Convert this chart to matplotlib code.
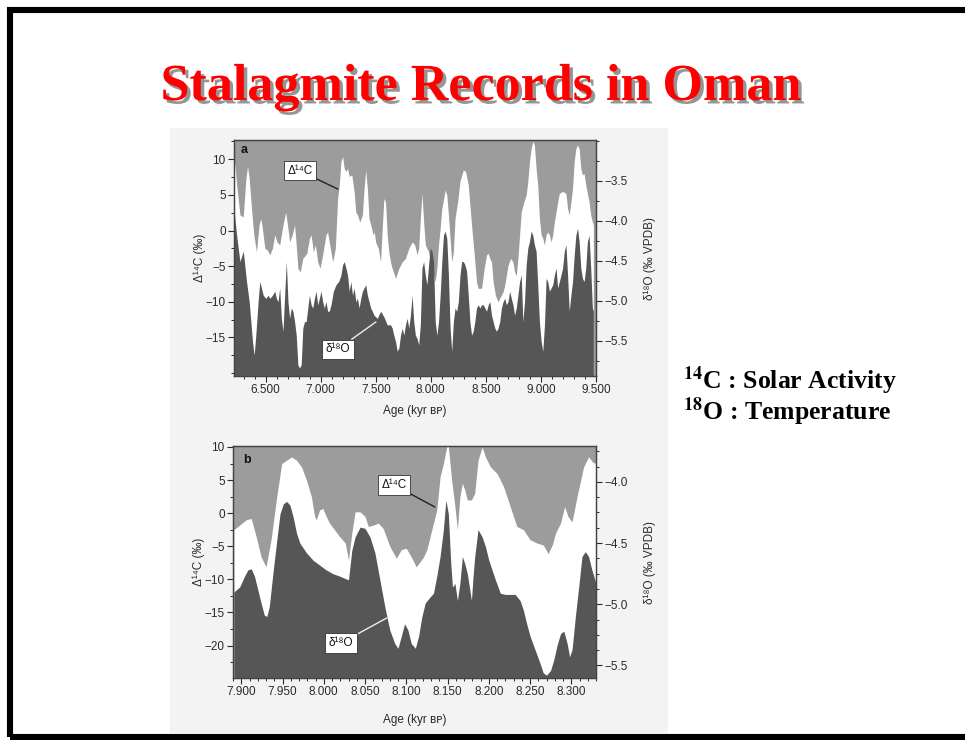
import matplotlib
matplotlib.use("Agg")
import matplotlib.pyplot as plt
import matplotlib.patheffects as pe
from matplotlib.patches import Rectangle
from matplotlib.ticker import FuncFormatter, MultipleLocator

plt.rcParams['font.family'] = ['Liberation Sans', 'DejaVu Sans']
plt.rcParams['mathtext.fontset'] = 'stix'

# ---------------- data: panel a ----------------
A_C14_AGE = [6213, 6222, 6237, 6267, 6297, 6321, 6336, 6351, 6372, 6393, 6417, 6441, 6456, 6471, 6493,
             6514, 6538, 6562, 6583, 6604, 6628, 6658, 6682, 6703, 6718, 6742, 6763, 6778, 6793, 6814,
             6838, 6874, 6898, 6913, 6934, 6952, 6973, 6994, 7018, 7048, 7063, 7078, 7109, 7133, 7154,
             7169, 7184, 7199, 7214, 7229, 7244, 7259, 7283, 7304, 7319, 7334, 7355, 7379, 7394, 7409,
             7424, 7439, 7463, 7475, 7487, 7499, 7523, 7544, 7559, 7574, 7589, 7604, 7619, 7634, 7649,
             7680, 7710, 7740, 7770, 7800, 7830, 7854, 7875, 7890, 7905, 7920, 7935, 7950, 7965, 7980,
             7995, 8010, 8025, 8040, 8055, 8070, 8085, 8100, 8115, 8130, 8145, 8160, 8175, 8190, 8205,
             8220, 8244, 8265, 8295, 8316, 8340, 8370, 8400, 8415, 8430, 8461, 8485, 8506, 8521, 8536,
             8551, 8566, 8587, 8611, 8626, 8656, 8671, 8701, 8725, 8746, 8761, 8776, 8791, 8821, 8845,
             8866, 8881, 8896, 8911, 8926, 8941, 8956, 8971, 8986, 9002, 9017, 9032, 9047, 9062, 9077,
             9092, 9107, 9122, 9137, 9152, 9167, 9197, 9227, 9242, 9257, 9272, 9287, 9302, 9317, 9332,
             9347, 9362, 9377, 9392, 9407, 9437, 9452, 9467, 9476]
A_C14 = [8.6, 9.4, 6.4, 2.2, 1.9, 7.3, 9.0, 7.3, 3.1, -0.6, -3.0, 0.8, 1.7, 0.3, -2.5,
         -2.7, -3.4, -2.5, -0.6, -1.6, -2.0, 0.8, 2.6, 0.3, -1.6, -0.6, 0.8, -2.0, -5.3, -5.8,
         -3.9, -3.2, -1.1, -0.6, -3.0, -2.0, -4.4, -5.3, -3.4, -0.6, -0.2, -1.6, -4.4, -2.5, 4.5,
         6.4, 9.7, 10.4, 8.7, 8.3, 8.7, 7.6, 7.8, 5.4, 2.6, 2.2, 1.2, 2.2, 5.9, 8.5,
         5.9, 1.7, 0.3, -0.6, -0.2, -1.6, -2.5, -4.4, 0.3, 4.5, 4.0, -0.6, -3.0, -4.4, -5.3,
         -6.7, -5.3, -4.4, -3.9, -2.5, -1.6, -2.0, -3.4, -2.5, 1.7, 5.2, 1.2, -2.0, -2.5, -3.0,
         -4.4, -6.7, -6.3, -7.2, -5.3, -2.0, 0.3, 3.1, 4.3, 5.7, 5.0, 2.2, -1.1, -4.4, -3.0,
         1.7, 4.1, 6.9, 8.5, 8.3, 6.4, 0.8, -4.4, -7.2, -8.1, -8.1, -5.3, -3.4, -3.2, -3.9,
         -4.4, -7.2, -9.1, -10.0, -9.5, -8.6, -7.7, -4.9, -3.9, -4.4, -5.8, -6.3, -3.9, 2.6, 4.0,
         5.0, 6.9, 9.7, 11.5, 12.5, 12.0, 8.7, 6.4, 1.7, -0.6, -1.1, -2.0, -0.6, -0.2, -0.6,
         -1.6, -0.6, 1.2, 2.6, 4.0, 5.2, 5.5, 5.2, 3.1, 2.2, 4.0, 5.9, 9.7, 11.5, 12.0,
         11.5, 8.7, 7.8, 8.0, 6.4, 4.0, 2.2, 1.2, 0.8]

A_O18_AGE = [6213, 6237, 6267, 6297, 6327, 6351, 6366, 6381, 6396, 6411, 6432, 6447, 6462, 6478, 6502,
             6523, 6538, 6562, 6583, 6598, 6613, 6628, 6643, 6658, 6673, 6688, 6703, 6718, 6733, 6748,
             6763, 6778, 6793, 6808, 6823, 6838, 6853, 6868, 6883, 6898, 6913, 6928, 6943, 6958, 6973,
             6988, 7003, 7018, 7033, 7048, 7063, 7078, 7094, 7115, 7139, 7163, 7184, 7199, 7214, 7229,
             7244, 7259, 7274, 7289, 7304, 7319, 7334, 7349, 7364, 7379, 7394, 7409, 7424, 7439, 7454,
             7469, 7484, 7514, 7544, 7574, 7604, 7634, 7649, 7664, 7680, 7695, 7710, 7725, 7740, 7755,
             7770, 7785, 7800, 7815, 7830, 7845, 7860, 7875, 7890, 7905, 7920, 7935, 7950, 7965, 7980,
             7995, 8010, 8025, 8040, 8055, 8070, 8085, 8100, 8115, 8130, 8145, 8160, 8175, 8190, 8205,
             8220, 8235, 8250, 8265, 8280, 8295, 8310, 8325, 8340, 8355, 8370, 8385, 8400, 8415, 8430,
             8446, 8461, 8476, 8491, 8506, 8521, 8536, 8551, 8566, 8581, 8596, 8611, 8626, 8641, 8656,
             8671, 8686, 8701, 8716, 8731, 8746, 8761, 8776, 8791, 8806, 8821, 8836, 8851, 8866, 8881,
             8896, 8911, 8926, 8941, 8956, 8971, 8986, 9002, 9017, 9032, 9047, 9062, 9077, 9092, 9107,
             9122, 9137, 9152, 9167, 9182, 9197, 9212, 9227, 9242, 9257, 9272, 9287, 9302, 9317, 9332,
             9347, 9362, 9377, 9392, 9407, 9422, 9437, 9452, 9467, 9476]
A_O18 = [-3.86, -4.18, -4.51, -4.38, -4.76, -5.01, -5.26, -5.51, -5.68, -5.43, -5.01, -4.76, -4.84, -4.93, -4.97,
         -4.93, -4.97, -4.93, -4.88, -4.97, -5.01, -4.84, -5.22, -5.38, -4.93, -4.51, -5.01, -5.22, -5.09, -5.13,
         -5.26, -5.43, -5.80, -5.84, -5.80, -5.34, -5.26, -5.26, -5.09, -4.93, -5.05, -5.09, -4.97, -4.88, -5.05,
         -4.97, -4.88, -5.01, -5.09, -5.01, -5.13, -5.13, -5.05, -4.88, -4.80, -4.76, -4.68, -4.55, -4.51, -4.59,
         -4.68, -4.88, -4.76, -4.93, -4.84, -5.01, -4.97, -5.09, -4.97, -4.88, -4.84, -4.80, -4.93, -5.01, -5.09,
         -5.13, -5.18, -5.22, -5.13, -5.20, -5.30, -5.30, -5.34, -5.43, -5.51, -5.63, -5.59, -5.43, -5.34, -5.43,
         -5.30, -5.22, -5.34, -5.18, -4.93, -5.26, -5.43, -5.47, -5.55, -5.30, -4.59, -4.51, -4.68, -4.80, -4.55,
         -4.34, -4.38, -4.51, -5.26, -5.43, -5.26, -4.93, -4.51, -4.18, -4.13, -4.22, -4.68, -5.34, -5.63, -5.26,
         -5.09, -5.13, -5.01, -4.68, -4.51, -4.51, -4.55, -4.63, -4.93, -5.26, -5.43, -5.38, -5.26, -5.09, -5.05,
         -5.09, -5.05, -5.05, -5.09, -5.13, -5.05, -5.01, -5.18, -5.26, -5.34, -5.38, -5.34, -5.26, -5.09, -5.01,
         -4.97, -5.05, -5.01, -4.88, -4.97, -5.05, -5.18, -5.09, -4.93, -4.76, -4.68, -5.26, -5.01, -4.55, -4.34,
         -4.26, -4.13, -4.18, -4.30, -4.38, -4.80, -5.26, -5.51, -5.63, -5.30, -4.72, -4.76, -4.88, -4.84, -4.80,
         -4.68, -4.59, -4.84, -4.76, -4.68, -4.59, -4.38, -4.30, -4.68, -5.13, -4.93, -4.76, -4.43, -4.18, -4.09,
         -4.26, -4.59, -4.72, -4.76, -4.59, -4.26, -4.18, -4.59, -5.09, -5.13]

# ---------------- data: panel b ----------------
B_C14_AGE = [7891, 7898, 7906, 7912, 7918, 7924, 7930, 7936, 7943, 7949, 7955, 7961, 7967, 7973, 7979,
             7985, 7989, 7991, 7995, 7999, 8003, 8007, 8013, 8019, 8026, 8030, 8034, 8038, 8044, 8050,
             8054, 8060, 8066, 8072, 8080, 8088, 8094, 8100, 8106, 8112, 8117, 8121, 8125, 8131, 8137,
             8141, 8145, 8149, 8151, 8155, 8159, 8162, 8165, 8168, 8171, 8174, 8179, 8183, 8187, 8192,
             8196, 8202, 8210, 8218, 8226, 8234, 8242, 8250, 8258, 8266, 8272, 8277, 8281, 8287, 8292,
             8296, 8301, 8307, 8315, 8321, 8326, 8330]
B_C14 = [-2.5, -1.8, -1.0, -0.8, -3.5, -6.6, -8.1, -4.1, 2.5, 7.5, 8.0, 8.5, 8.0, 7.0, 5.0,
         2.5, -0.5, -1.0, 0.5, 0.7, -0.5, -1.5, -2.5, -3.5, -4.5, -7.1, -3.0, 0.2, 0.2, -0.5,
         -2.0, -1.8, -1.5, -2.3, -5.0, -6.8, -5.5, -5.3, -6.6, -8.1, -7.3, -6.6, -5.5, -2.5, 0.5,
         5.5, 7.5, 10.0, 10.1, 5.0, 1.0, -2.5, 2.5, 4.5, 3.5, 2.0, 2.0, 3.0, 8.0, 10.0,
         8.5, 7.0, 6.0, 4.0, 1.0, -2.0, -2.5, -4.0, -4.5, -4.8, -6.1, -4.8, -3.0, -1.5, 1.0,
         -0.5, -1.3, 2.5, 7.0, 8.5, 7.7, 7.5]

B_O18_AGE = [7891, 7898, 7904, 7908, 7912, 7916, 7920, 7924, 7928, 7931, 7934, 7938, 7943, 7947, 7951,
             7955, 7959, 7963, 7967, 7971, 7979, 7987, 7995, 8003, 8011, 8019, 8026, 8030, 8034, 8038,
             8044, 8050, 8056, 8062, 8068, 8074, 8080, 8086, 8090, 8094, 8098, 8102, 8106, 8111, 8115,
             8119, 8123, 8129, 8133, 8137, 8141, 8145, 8148, 8151, 8154, 8156, 8159, 8162, 8165, 8168,
             8171, 8174, 8177, 8179, 8181, 8183, 8187, 8192, 8196, 8200, 8204, 8208, 8214, 8220, 8226,
             8232, 8238, 8242, 8246, 8250, 8256, 8262, 8266, 8270, 8275, 8279, 8283, 8287, 8291, 8295,
             8298, 8301, 8305, 8309, 8313, 8317, 8321, 8325, 8330]
B_O18 = [-4.90, -4.86, -4.77, -4.72, -4.71, -4.77, -4.88, -4.99, -5.09, -5.10, -5.02, -4.77, -4.48, -4.26, -4.18,
         -4.16, -4.19, -4.29, -4.42, -4.50, -4.58, -4.64, -4.68, -4.72, -4.75, -4.77, -4.79, -4.80, -4.56, -4.45,
         -4.37, -4.38, -4.45, -4.58, -4.80, -5.02, -5.21, -5.32, -5.36, -5.26, -5.16, -5.21, -5.32, -5.36, -5.26,
         -5.10, -4.99, -4.94, -4.91, -4.77, -4.61, -4.39, -4.15, -4.26, -4.67, -4.86, -4.83, -4.97, -4.83, -4.61,
         -4.67, -4.75, -4.88, -4.97, -4.77, -4.61, -4.39, -4.45, -4.53, -4.64, -4.72, -4.80, -4.91, -4.92, -4.92,
         -4.92, -4.97, -5.05, -5.16, -5.26, -5.37, -5.48, -5.56, -5.58, -5.54, -5.45, -5.33, -5.24, -5.22, -5.32,
         -5.43, -5.37, -5.10, -4.86, -4.61, -4.57, -4.61, -4.72, -4.83]

# tick values / labels
A_XTICKS = [6500, 7000, 7500, 8000, 8500, 9000, 9500]
A_YTICKS_L = [10, 5, 0, -5, -10, -15]
A_YTICKS_R = [-3.5, -4.0, -4.5, -5.0, -5.5]
B_XTICKS = [7900, 7950, 8000, 8050, 8100, 8150, 8200, 8250, 8300]
B_YTICKS_L = [10, 5, 0, -5, -10, -15, -20]
B_YTICKS_R = [-4.0, -4.5, -5.0, -5.5]

TITLE = "Stalagmite Records in Oman"
NOTE1 = r"$^{\mathbf{14}}$C : Solar Activity"
NOTE2 = r"$^{\mathbf{18}}$O : Temperature"
XLABEL = "Age (kyr \u0299\u1d18)"
YLABEL_L = "\u0394\u00b9\u2074C (\u2030)"
YLABEL_R = "\u03b4\u00b9\u2078O (\u2030 VPDB)"

LIGHT = '#9c9c9c'
DARK = '#565656'
INK = '#2a2a2a'

W, H = 965, 740
fig = plt.figure(figsize=(W / 100, H / 100), dpi=100)
fig.patch.set_facecolor('white')

# scanned-figure background and slide frame
fig.patches.append(Rectangle((170 / W, 7 / H), 498 / W, 605 / H, transform=fig.transFigure,
                             facecolor='#f3f3f3', edgecolor='none', zorder=-5))
fig.patches.append(Rectangle((10 / W, 3 / H), 975 / W, 727 / H, transform=fig.transFigure,
                             fill=False, edgecolor='black', linewidth=4.4, zorder=5))


def px_axes(left, top, right, bottom):
    return fig.add_axes([left / W, (H - bottom) / H, (right - left) / W, (bottom - top) / H])


def fmt_thousands(v, pos):
    return f"{v / 1000:.3f}"


def fmt_minus(v, pos):
    return f"{v:g}".replace('-', '\u2212')


def fmt_minus1(v, pos):
    return f"{v:.1f}".replace('-', '\u2212')


def style_panel(ax, ax2, xticks, xminor, yl, yminor, yr, rminor):
    for a in (ax, ax2):
        for s in a.spines.values():
            s.set_color('#444444')
            s.set_linewidth(0.9)
    ax.set_xticks(xticks)
    ax.xaxis.set_minor_locator(MultipleLocator(xminor))
    ax.xaxis.set_major_formatter(FuncFormatter(fmt_thousands))
    ax.set_yticks(yl)
    ax.yaxis.set_minor_locator(MultipleLocator(yminor))
    ax.yaxis.set_major_formatter(FuncFormatter(fmt_minus))
    ax2.set_yticks(yr)
    ax2.yaxis.set_minor_locator(MultipleLocator(rminor))
    ax2.yaxis.set_major_formatter(FuncFormatter(fmt_minus1))
    for a in (ax, ax2):
        a.tick_params(which='major', direction='out', length=4, width=0.8, colors=INK,
                      labelsize=8.5, pad=2)
        a.tick_params(which='minor', direction='out', length=2.5, width=0.7, colors=INK)


def panel(ax, age_c, c14, age_o, o18, ylim, rlim, xlim):
    ax.set_facecolor(LIGHT)
    ax.set_xlim(*xlim)
    ax.set_ylim(*ylim)
    ax.fill_between(age_c, c14, ylim[0], color='white', lw=0)
    ax2 = ax.twinx()
    ax2.set_ylim(*rlim)
    ax2.fill_between(age_o, o18, rlim[0], color=DARK, lw=0)
    return ax2


def label_box(ax, text, xy_text, xy_end, line_color):
    ax.annotate(text, xy=xy_end, xycoords='axes fraction', xytext=xy_text,
                textcoords='axes fraction', ha='center', va='center', fontsize=8.5,
                color='#111111',
                bbox=dict(boxstyle='square,pad=0.3', fc='white', ec='#333333', lw=0.6),
                arrowprops=dict(arrowstyle='-', color=line_color, lw=1.0, shrinkA=0, shrinkB=0),
                zorder=10)


# ---------------- panel a ----------------
axA = px_axes(234, 140, 596, 376)
axA2 = panel(axA, A_C14_AGE, A_C14, A_O18_AGE, A_O18, (-20.4, 12.7), (-5.94, -2.99), (6213, 9476))
style_panel(axA, axA2, A_XTICKS, 100, A_YTICKS_L, 2.5, A_YTICKS_R, 0.25)
axA.set_xlabel(XLABEL, fontsize=8.5, color=INK, labelpad=6)
axA.set_ylabel(YLABEL_L, fontsize=8.5, color=INK, labelpad=0)
fig.text(650 / W, 1 - 258 / H, YLABEL_R, rotation=90, ha='center', va='center',
         fontsize=8.5, color=INK)
axA2.text(0.017, 0.958, 'a', transform=axA2.transAxes, fontsize=9, fontweight='bold',
          color='#111111', ha='left', va='center')
label_box(axA2, "\u0394\u00b9\u2074C", (0.182, 0.869), (0.287, 0.792), '#222222')
label_box(axA2, "\u03b4\u00b9\u2078O", (0.287, 0.114), (0.392, 0.229), '#eeeeee')

# ---------------- panel b ----------------
axB = px_axes(233, 446, 596, 678)
axB2 = panel(axB, B_C14_AGE, B_C14, B_O18_AGE, B_O18, (-24.9, 10.15), (-5.603, -3.707), (7890, 8330))
style_panel(axB, axB2, B_XTICKS, 10, B_YTICKS_L, 2.5, B_YTICKS_R, 0.125)
axB.set_xlabel(XLABEL, fontsize=8.5, color=INK, labelpad=11)
axB.set_ylabel(YLABEL_L, fontsize=8.5, color=INK, labelpad=0)
fig.text(650 / W, 1 - 563 / H, YLABEL_R, rotation=90, ha='center', va='center',
         fontsize=8.5, color=INK)
axB2.text(0.0275, 0.94, 'b', transform=axB2.transAxes, fontsize=9, fontweight='bold',
          color='#111111', ha='left', va='center')
label_box(axB2, "\u0394\u00b9\u2074C", (0.4435, 0.832), (0.556, 0.737), '#222222')
label_box(axB2, "\u03b4\u00b9\u2078O", (0.2975, 0.151), (0.424, 0.259), '#eeeeee')

# ---------------- slide texts ----------------
fig.text(481 / W, 1 - 100 / H, TITLE, ha='center', va='baseline', fontsize=37.5,
         fontweight='bold', family='Liberation Serif', color='#ff0000',
         path_effects=[pe.withSimplePatchShadow(offset=(2.5, -2.5), shadow_rgbFace='#8a8a8a',
                                                alpha=0.9)])
fig.text(683 / W, 1 - 389 / H, NOTE1, ha='left', va='baseline', fontsize=18.5,
         fontweight='bold', family='Liberation Serif', color='black')
fig.text(683 / W, 1 - 420 / H, NOTE2, ha='left', va='baseline', fontsize=18.5,
         fontweight='bold', family='Liberation Serif', color='black')

fig.savefig('out.png', dpi=100, facecolor='white')
